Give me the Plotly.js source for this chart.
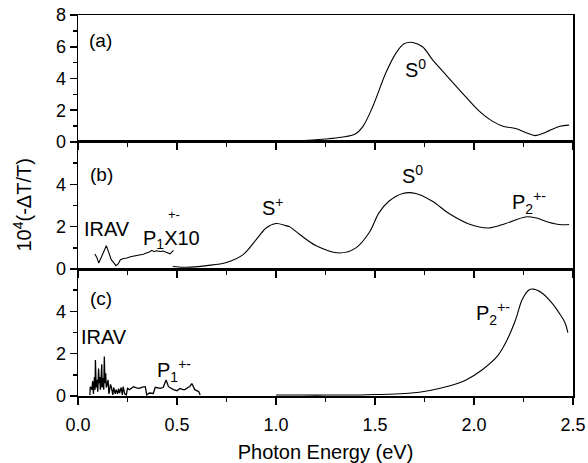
<!DOCTYPE html>
<html>
<head>
<meta charset="utf-8">
<script src="https://cdn.plot.ly/plotly-3.0.1.min.js"></script>
<style>html,body{margin:0;padding:0;background:#fff;}#chart{width:588px;height:463px;}</style>
</head>
<body>
<div id="chart"></div>
<script>
// Panel (a)
const energyA = [0.25,0.5,0.75,1.0,1.12,1.25,1.33,1.40,1.44,1.49,1.555,1.606,1.647,1.69,1.74,1.79,1.857,1.94,2.025,2.09,2.15,2.21,2.26,2.31,2.36,2.43,2.48];
const valueA  = [0.03,0.02,0.02,0.04,0.08,0.19,0.3,0.5,1.0,2.27,4.36,5.6,6.19,6.27,6.0,5.19,4.25,3.1,1.96,1.33,0.98,0.85,0.6,0.4,0.6,0.98,1.06];

// Panel (b): IRAV region (x10) and main curve
const energyB1 = [0.085,0.095,0.105,0.113,0.122,0.133,0.143,0.149,0.155,0.168,0.18,0.192,0.204,0.214,0.23,0.247,0.265,0.28,0.297,0.314,0.33,0.345,0.36,0.373,0.385,0.395,0.405,0.415,0.43,0.449,0.465,0.482];
const valueB1  = [0.71,0.55,0.28,0.45,0.6,0.9,1.1,0.95,0.76,0.44,0.3,0.16,0.25,0.44,0.5,0.52,0.58,0.6,0.64,0.68,0.7,0.76,0.8,0.88,0.82,0.86,0.84,0.83,0.85,0.79,0.72,0.88];
const energyB2 = [0.479,0.55,0.65,0.75,0.834,0.90,0.95,1.00,1.05,1.07,1.12,1.203,1.32,1.404,1.47,1.52,1.57,1.64,1.706,1.79,1.874,1.974,2.075,2.16,2.26,2.31,2.377,2.43,2.48];
const valueB2  = [0.12,0.08,0.16,0.31,0.68,1.39,1.94,2.15,2.05,1.99,1.63,1.10,0.76,1.0,1.71,2.65,3.2,3.57,3.57,3.2,2.62,2.13,1.94,2.15,2.46,2.42,2.21,2.1,2.1];

// Panel (c): IRAV region and main curve
const energyC1 = [0.06,0.062,0.07,0.074,0.078,0.083,0.086,0.088,0.092,0.096,0.1,0.104,0.107,0.11,0.113,0.115,0.12,0.122,0.124,0.127,0.13,0.133,0.136,0.14,0.143,0.146,0.152,0.156,0.16,0.164,0.168,0.172,0.176,0.18,0.182,0.188,0.193,0.2,0.205,0.21,0.218,0.224,0.228,0.236,0.244,0.25,0.26,0.28,0.295,0.31,0.325,0.34,0.347,0.36,0.38,0.39,0.40,0.415,0.43,0.445,0.457,0.47,0.482,0.5,0.515,0.53,0.54,0.555,0.565,0.575,0.59,0.61,0.617];
const valueC1  = [0.05,0.44,0.3,0.7,0.1,0.9,0.3,1.7,0.4,0.76,0.2,1.3,0.6,0.9,0.3,0.5,1.5,0.4,0.7,0.85,0.3,1.87,0.6,1.07,0.4,0.5,0.76,0.1,0.3,0.55,0.44,0.1,0.05,0.4,0.35,0.1,0.3,0.1,0.35,0.14,0.4,0.05,0.44,0.1,0.05,0.36,0.3,0.44,0.38,0.36,0.42,0.44,0.05,0.14,0.12,0.41,0.38,0.36,0.4,0.76,0.44,0.36,0.3,0.25,0.36,0.3,0.3,0.4,0.45,0.59,0.3,0.2,0.05];
const energyC2 = [1.0,1.085,1.2,1.3,1.4,1.5,1.57,1.67,1.77,1.874,1.96,2.04,2.117,2.167,2.21,2.243,2.276,2.30,2.343,2.393,2.436,2.46,2.474];
const valueC2  = [0.05,0.05,0.04,0.05,0.05,0.07,0.08,0.13,0.25,0.47,0.76,1.23,1.87,2.65,3.6,4.55,5.0,5.05,4.87,4.4,3.84,3.45,3.0];

const xTickVals = [0,0.5,1.0,1.5,2.0,2.5];
const xTickText = ['0.0','0.5','1.0','1.5','2.0','2.5'];
const xMinorVals = [0.25,0.75,1.25,1.75,2.25];
const yTickValsA = [0,2,4,6,8];
const yMinorValsA = [1,3,5,7];
const yTickValsBC = [0,2,4];
const yMinorValsBC = [1,3,5];

const FONT = 'Liberation Sans, Arial, sans-serif';
const smooth = {color:'#000', width:1.1, shape:'spline'};
const traces = [
  {x:energyA, y:valueA, xaxis:'x3', yaxis:'y3', mode:'lines', line:smooth},
  {x:energyB1, y:valueB1, xaxis:'x2', yaxis:'y2', mode:'lines', line:{color:'#000', width:1.1}},
  {x:energyB2, y:valueB2, xaxis:'x2', yaxis:'y2', mode:'lines', line:smooth},
  {x:energyC1, y:valueC1, xaxis:'x', yaxis:'y', mode:'lines', line:{color:'#000', width:1.3}},
  {x:energyC2, y:valueC2, xaxis:'x', yaxis:'y', mode:'lines', line:smooth}
];

function xAx(anchor, labels) {
  const a = {
    anchor: anchor, range:[0,2.5], showline:true, mirror:true, linecolor:'#000', linewidth:1.5,
    ticks:'outside', ticklen:7, tickwidth:1.5, tickcolor:'#000',
    tickvals: xTickVals, ticktext: xTickText, showticklabels: labels, ticklabelstandoff: 5,
    minor:{tickvals:xMinorVals, ticks:'outside', ticklen:4, tickwidth:1.5, tickcolor:'#000', showgrid:false},
    showgrid:false, zeroline:false, tickfont:{family:FONT, size:18, color:'#000'}
  };
  if (anchor !== 'y') a.matches = 'x';
  return a;
}
function yAx(domain, range, tv, mv) {
  return {
    domain: domain, range: range, anchor: 'x', showline:true, mirror:true, linecolor:'#000', linewidth:1.5,
    ticks:'outside', ticklen:7, tickwidth:1.5, tickcolor:'#000', tickvals: tv,
    minor:{tickvals:mv, ticks:'outside', ticklen:4, tickwidth:1.5, tickcolor:'#000', showgrid:false},
    showgrid:false, zeroline:false, tickfont:{family:FONT, size:18, color:'#000'}
  };
}

const xa = xAx('y', true);
xa.title = {text:'Photon Energy (eV)', font:{family:FONT, size:20, color:'#000'}, standoff:12};
const ann = (xref, yref, x, y, text, size, yanchor) => ({xref:xref, yref:yref, x:x, y:y, text:text, showarrow:false,
  xanchor:'left', yanchor:yanchor || 'middle', font:{family:FONT, size:size || 19, color:'#000'}});

const layout = {
  width:588, height:463, margin:{l:78, r:15, t:15, b:67},
  paper_bgcolor:'#fff', plot_bgcolor:'#fff', showlegend:false,
  xaxis: xa,
  xaxis2: xAx('y2', false),
  xaxis3: xAx('y3', false),
  yaxis: yAx([0,0.3333], [0,6], yTickValsBC, yMinorValsBC),
  yaxis2: Object.assign(yAx([0.3333,0.6667], [0,6], yTickValsBC, yMinorValsBC), {anchor:'x2'}),
  yaxis3: Object.assign(yAx([0.6667,1], [0,8], yTickValsA, yMinorValsA), {anchor:'x3'}),
  annotations: [
    ann('x3','y3',0.045,6.4,'(a)'),
    ann('x3','y3',1.64,4.6,'S<sup>0</sup>', 20),
    ann('x2','y2',0.05,4.47,'(b)'),
    ann('x2','y2',0.92,2.95,'S<sup>+</sup>', 20),
    ann('x2','y2',1.625,4.47,'S<sup>0</sup>', 20),
    ann('x2','y2',2.18,3.15,'P<sub>2</sub><sup>+-</sup>', 20),
    ann('x2','y2',0.02,1.9,'IRAV', 20),
    ann('x2','y2',0.32,2.1,'P<sub>1</sub>X10', 20, 'top'),
    ann('x2','y2',0.445,2.12,'+-', 13, 'bottom'),
    ann('x','y',0.05,4.6,'(c)'),
    ann('x','y',0.005,2.77,'IRAV', 20),
    ann('x','y',0.39,1.2,'P<sub>1</sub><sup>+-</sup>', 20),
    ann('x','y',2.0,3.9,'P<sub>2</sub><sup>+-</sup>', 20),
    {xref:'paper', yref:'paper', x:-0.113, y:0.5, text:'10<sup>4</sup>(-ΔT/T)', textangle:-90, showarrow:false,
     xanchor:'center', yanchor:'middle', font:{family:FONT, size:20, color:'#000'}}
  ]
};
Plotly.newPlot('chart', traces, layout, {staticPlot:true, displayModeBar:false});
</script>
</body>
</html>
